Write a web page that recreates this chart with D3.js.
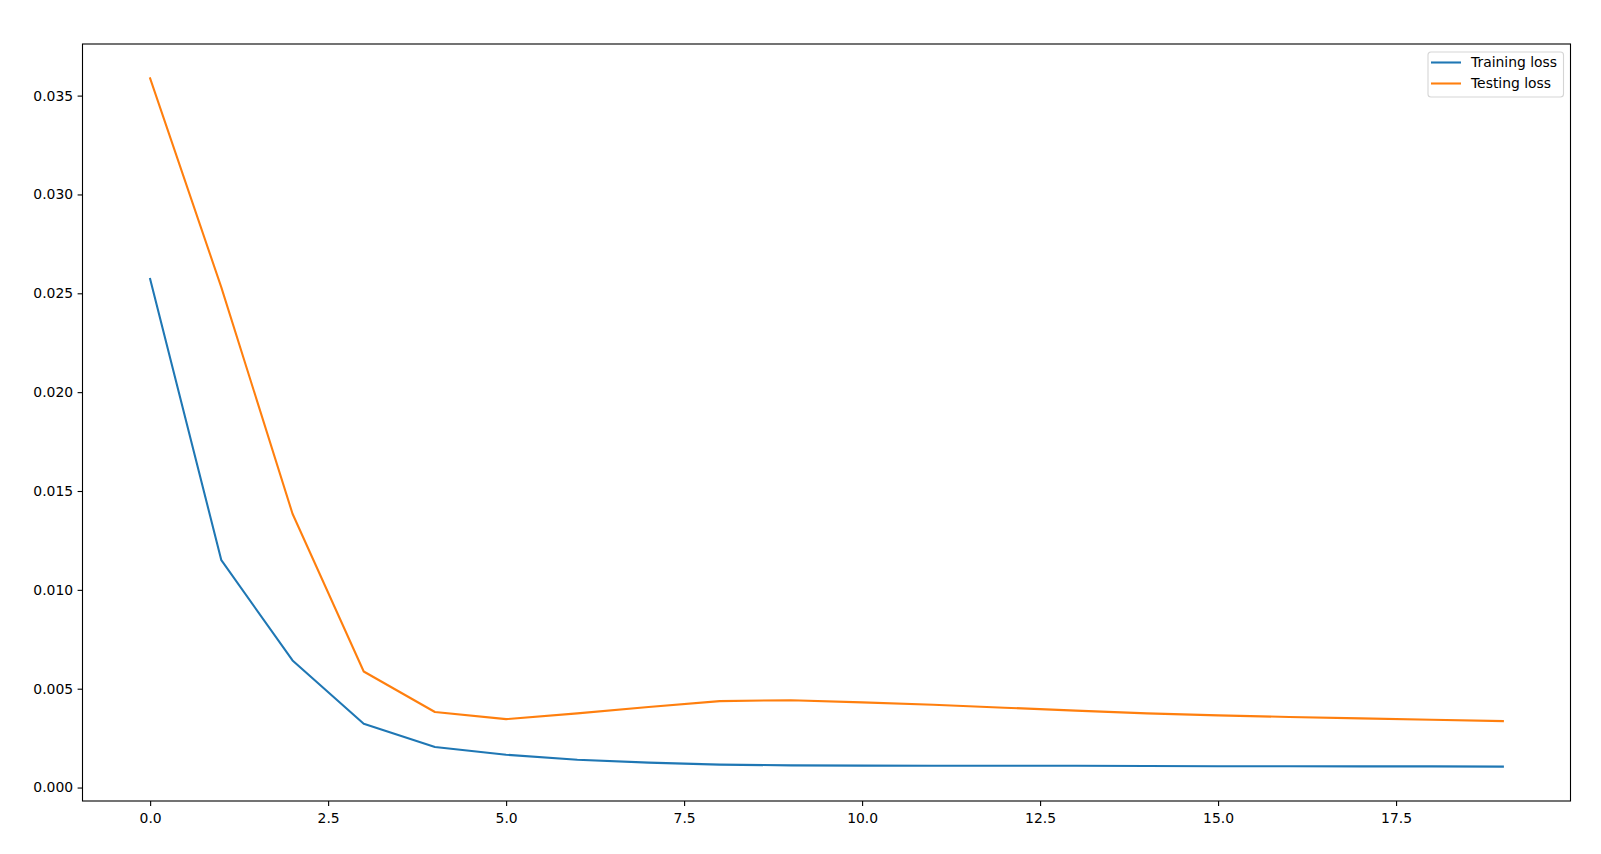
<!DOCTYPE html>
<html>
<head>
<meta charset="utf-8">
<script src="https://cdn.jsdelivr.net/npm/d3@7"></script>
<style>
  html, body { margin: 0; padding: 0; background: #fff; }
  svg { display: block; }
  text { font-family: "DejaVu Sans", sans-serif; }
</style>
</head>
<body>
<svg id="chart" width="1601" height="854"></svg>
<script>
const epochs = d3.range(0, 20);
const trainingLoss = [0.02572, 0.01150, 0.00643, 0.00323, 0.00205, 0.00166, 0.00141, 0.00126, 0.00116, 0.00112,
                      0.00111, 0.00110, 0.00110, 0.00110, 0.00109, 0.00108, 0.00108, 0.00107, 0.00107, 0.00106];
const testingLoss = [0.03587, 0.02530, 0.01385, 0.00587, 0.00382, 0.00346, 0.00375, 0.00407, 0.00437, 0.00442,
                     0.00431, 0.00419, 0.00404, 0.00389, 0.00375, 0.00365, 0.00357, 0.00350, 0.00343, 0.00336];
const seriesNames = ["Training loss", "Testing loss"];
const seriesColors = ["#1f77b4", "#ff7f0e"];
const xTicks = [0, 2.5, 5, 7.5, 10, 12.5, 15, 17.5];
const yTicks = [0, 0.005, 0.010, 0.015, 0.020, 0.025, 0.030, 0.035];

const svg = d3.select("#chart");
const L = 82.5, R = 1570.5, T = 44, B = 801;

const allY = trainingLoss.concat(testingLoss);
const yMin = d3.min(allY), yMax = d3.max(allY);
const ym = (yMax - yMin) * 0.05;
const xm = (epochs[epochs.length - 1] - epochs[0]) * 0.05;

const x = d3.scaleLinear().domain([epochs[0] - xm, epochs[epochs.length - 1] + xm]).range([L, R]);
const y = d3.scaleLinear().domain([yMin - ym, yMax + ym]).range([B, T]);

const fontSize = "13.9px";

// Axes
const xAxis = d3.axisBottom(x).tickValues(xTicks).tickFormat(d3.format(".1f")).tickSizeOuter(0).tickSize(4.9).tickPadding(7.2);
const yAxis = d3.axisLeft(y).tickValues(yTicks).tickFormat(d3.format(".3f")).tickSizeOuter(0).tickSize(4.9).tickPadding(4.5);

const gx = svg.append("g").attr("transform", `translate(0,${B})`).call(xAxis);
const gy = svg.append("g").attr("transform", `translate(${L},0)`).call(yAxis);
[gx, gy].forEach(g => {
  g.select(".domain").remove();
  g.selectAll(".tick line").attr("stroke", "#000").attr("stroke-width", 1.1);
  g.selectAll(".tick text").attr("fill", "#000").style("font-size", fontSize).style("font-family", "DejaVu Sans, sans-serif");
});

// Lines
svg.append("clipPath").attr("id", "clip").append("rect")
  .attr("x", L).attr("y", T).attr("width", R - L).attr("height", B - T);

const line = d3.line().x((d, i) => x(epochs[i])).y(d => y(d));
const series = [trainingLoss, testingLoss];
svg.append("g").attr("clip-path", "url(#clip)")
  .selectAll("path").data(series).join("path")
  .attr("d", line)
  .attr("fill", "none")
  .attr("stroke", (d, i) => seriesColors[i])
  .attr("stroke-width", 2.08)
  .attr("stroke-linejoin", "round")
  .attr("stroke-linecap", "square");

// Frame
svg.append("rect").attr("x", L).attr("y", T).attr("width", R - L).attr("height", B - T)
  .attr("fill", "none").attr("stroke", "#000").attr("stroke-width", 1.1);

// Legend
const lg = svg.append("g").attr("transform", `translate(1428,52)`);
lg.append("rect").attr("x", 0).attr("y", 0).attr("width", 135.5).attr("height", 45)
  .attr("rx", 3).attr("ry", 3)
  .attr("fill", "#fff").attr("fill-opacity", 0.8)
  .attr("stroke", "#d5d5d5").attr("stroke-width", 1.1);
seriesNames.forEach((name, i) => {
  const cy = 10.5 + i * 21;
  lg.append("line").attr("x1", 3).attr("x2", 33).attr("y1", cy).attr("y2", cy)
    .attr("stroke", seriesColors[i]).attr("stroke-width", 2.08);
  lg.append("text").attr("x", 43).attr("y", cy).attr("dy", "0.35em")
    .style("font-size", fontSize).attr("fill", "#000").text(name);
});
</script>
</body>
</html>
